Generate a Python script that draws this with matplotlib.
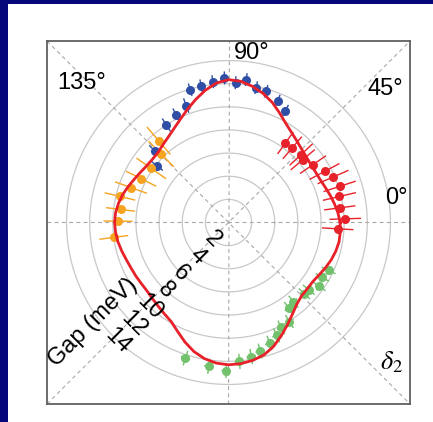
import numpy as np
import matplotlib.pyplot as plt
from matplotlib.patches import Rectangle

# fitted gap curve (deg, meV), every 5 degrees
fit_angle = [0, 5, 10, 15, 20, 25, 30, 35, 40, 45, 50, 55, 60, 65, 70, 75, 80, 85,
             90, 95, 100, 105, 110, 115, 120, 125, 130, 135, 140, 145, 150, 155, 160, 165, 170, 175,
             180, 185, 190, 195, 200, 205, 210, 215, 220, 225, 230, 235, 240, 245, 250, 255, 260, 265,
             270, 275, 280, 285, 290, 295, 300, 305, 310, 315, 320, 325, 330, 335, 340, 345, 350, 355]
fit_gap = [9.65, 9.5, 9.3, 9.1, 8.9, 8.75, 8.7, 8.7, 8.8, 8.95, 9.2, 9.5, 9.9, 10.45, 11.05, 11.55, 11.95, 12.25,
           12.35, 12.1, 11.6, 11.0, 10.4, 9.85, 9.4, 9.05, 8.8, 8.6, 8.55, 8.6, 8.75, 8.95, 9.2, 9.45, 9.65, 9.8,
           9.85, 9.8, 9.7, 9.55, 9.4, 9.3, 9.25, 9.2, 9.2, 9.3, 9.45, 9.65, 9.9, 10.4, 11.0, 11.55, 11.95, 12.2,
           12.3, 12.25, 12.1, 11.85, 11.4, 10.8, 10.2, 9.65, 9.2, 8.95, 8.9, 8.9, 9.05, 9.25, 9.45, 9.6, 9.7, 9.7]

# measured points (deg, meV) and radial error
blue_angle = [122.5, 116.0, 109.9, 106.1, 101.3, 96.4, 91.6, 87.1, 82.9, 78.4, 74.0, 68.0, 63.0, 135.8, 141.6]
blue_gap = [10.0, 10.3, 10.75, 11.95, 12.05, 12.25, 12.5, 12.1, 12.45, 11.9, 11.8, 11.35, 10.85, 8.9, 7.9]
blue_err = [0.6, 0.6, 0.6, 0.5, 0.5, 0.5, 0.5, 0.5, 0.5, 0.5, 0.5, 0.5, 0.5, 0.6, 0.6]

red_angle = [54.4, 49.5, 43.1, 40.2, 34.4, 28.0, 23.5, 18.0, 13.2, 7.5, 1.8, -3.3]
red_gap = [8.45, 8.5, 8.6, 8.4, 8.85, 9.4, 9.85, 10.1, 9.85, 9.7, 10.1, 9.45]
red_err = [1.1, 1.2, 1.3, 1.3, 1.3, 1.4, 1.4, 1.4, 1.4, 1.3, 1.3, 1.3]

orange_angle = [130.5, 134.5, 145.0, 153.4, 160.3, 166.5, 173.1, 179.3, 187.4]
orange_gap = [9.3, 8.3, 8.15, 8.45, 8.95, 9.65, 9.4, 9.55, 10.0]
orange_err = [1.5, 1.5, 1.5, 1.4, 1.4, 1.3, 1.2, 1.2, 1.2]

green_angle = [252.4, 262.2, 269.1, 274.5, 279.6, 283.8, 288.8, 293.1, 296.7, 301.6, 305.1, 309.4,
               316.8, 320.0, 324.9, 329.7, 334.4]
green_gap = [12.3, 12.55, 12.8, 12.05, 11.75, 11.45, 11.0, 10.6, 10.15, 10.05, 9.05, 8.85,
             9.0, 9.05, 9.6, 9.4, 9.6]
green_err = [0.6] * 17

ring_values = [2, 4, 6, 8, 10, 12, 14]
spoke_angles = [0, 45, 90, 135]
R = 15.69


def to_xy(angle, gap):
    t = np.radians(np.asarray(angle, dtype=float))
    g = np.asarray(gap, dtype=float)
    return g * np.cos(t), g * np.sin(t)


def draw_points(ax, angle, gap, err, color, tick=0.0):
    angle = np.asarray(angle, dtype=float)
    gap = np.asarray(gap, dtype=float)
    err = np.asarray(err, dtype=float)
    x0, y0 = to_xy(angle, gap - err)
    x1, y1 = to_xy(angle, gap + err)
    for a, b, c, d in zip(x0, x1, y0, y1):
        ax.plot([a, b], [c, d], color=color, lw=1.0, zorder=3)
    if tick > 0:
        t = np.radians(angle)
        x, y = to_xy(angle, gap)
        for xi, yi, ti in zip(x, y, t):
            dx, dy = -np.sin(ti) * tick, np.cos(ti) * tick
            ax.plot([xi - dx, xi + dx], [yi - dy, yi + dy], color=color, lw=1.0, zorder=3)
    x, y = to_xy(angle, gap)
    ax.plot(x, y, "o", color=color, ms=6.5, mec="none", zorder=4)


fig = plt.figure(figsize=(4.33, 4.22), dpi=100, facecolor="#07077c")
fig.patches.append(Rectangle((8 / 433, 0), 1, 418 / 422, transform=fig.transFigure,
                             facecolor="white", edgecolor="none", zorder=-10))

ax = fig.add_axes([47 / 433, 18 / 422, 363 / 433, 363 / 422])
ax.set_xlim(-R, R)
ax.set_ylim(-R, R)
ax.set_aspect("equal")
ax.set_xticks([])
ax.set_yticks([])
for s in ax.spines.values():
    s.set_color("#606060")
    s.set_linewidth(1.3)

# rings and spokes
t = np.linspace(0, 2 * np.pi, 361)
for rv in ring_values:
    ax.plot(rv * np.cos(t), rv * np.sin(t), color="#c8c8c8", lw=0.9, zorder=1)
for sa in spoke_angles:
    ax.axline((0, 0), (np.cos(np.radians(sa)), np.sin(np.radians(sa))),
              color="#a8a8a8", lw=0.8, ls=(0, (3.5, 3)), zorder=1)

draw_points(ax, blue_angle, blue_gap, blue_err, "#2f4fa6")
draw_points(ax, orange_angle, orange_gap, orange_err, "#f6a31f")
draw_points(ax, red_angle, red_gap, red_err, "#e8222a")
draw_points(ax, green_angle, green_gap, green_err, "#72c16c", tick=0.35)

fx, fy = to_xy(fit_angle + fit_angle[:1], fit_gap + fit_gap[:1])
ax.plot(fx, fy, color="#e8202a", lw=2.0, zorder=5)

font = "Liberation Sans"
ax.text(1.99, 14.69, "90°", fontsize=17, family=font, ha="center", va="center")
ax.text(13.57, 11.58, "45°", fontsize=17, family=font, ha="center", va="center")
ax.text(-12.7, 12.1, "135°", fontsize=17, family=font, ha="center", va="center")
ax.text(14.5, 2.1, "0°", fontsize=17, family=font, ha="center", va="center")
plt.rcParams["mathtext.fontset"] = "stix"
ax.text(14.1, -12.1, r"$\delta_2$", fontsize=19, ha="center", va="center")

for rv in ring_values:
    lx, ly = to_xy(227, rv)
    ax.text(lx, ly, str(rv), fontsize=17, family=font, rotation=-45,
            ha="center", va="center", rotation_mode="anchor", zorder=6)
ax.text(-11.73, -8.62, "Gap (meV)", fontsize=17, family=font, rotation=45,
        ha="center", va="center", rotation_mode="anchor", zorder=6)

fig.savefig("out.png", dpi=100, facecolor=fig.get_facecolor())
